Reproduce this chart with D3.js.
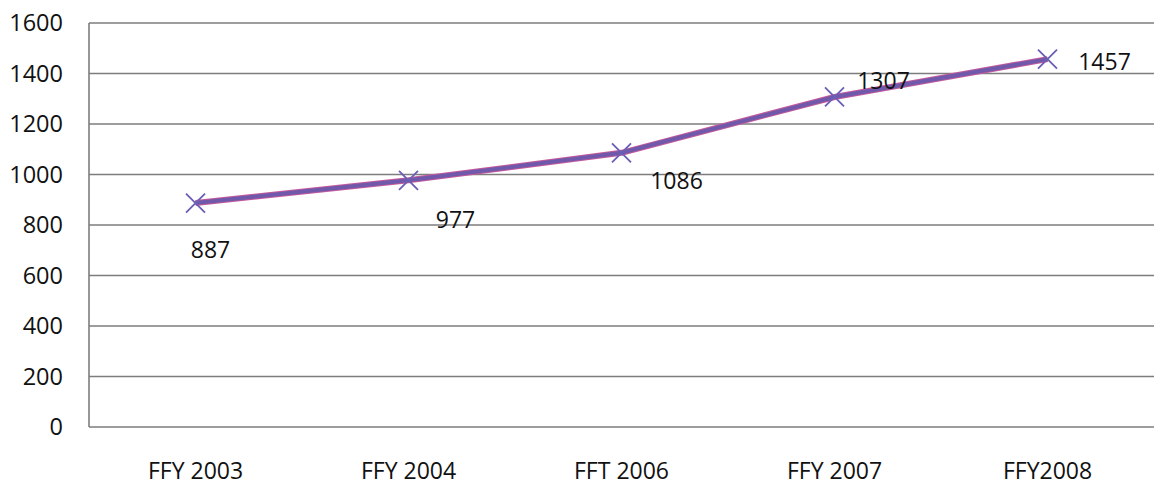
<!DOCTYPE html>
<html>
<head>
<meta charset="utf-8">
<script src="https://cdn.jsdelivr.net/npm/d3@7"></script>
<style>
  html, body { margin: 0; padding: 0; background: #fff; }
  svg text { font-family: "Open Sans", "Liberation Sans", sans-serif; fill: #111; }
</style>
</head>
<body>
<svg id="chart" width="1156" height="485"></svg>
<script>
// Yearly totals
const categories = ["FFY 2003", "FFY 2004", "FFT 2006", "FFY 2007", "FFY2008"];
const values = [887, 977, 1086, 1307, 1457];
const yTicks = [0, 200, 400, 600, 800, 1000, 1200, 1400, 1600];

// Where each value label sits relative to its point
const labelOffsets = [[15, 55], [47, 48], [55, 36], [49, -8], [57, 11]];

const svg = d3.select("#chart");
const margin = { left: 89, right: 2, top: 23, bottom: 58 };
const W = 1156, H = 485;

const x = d3.scaleBand().domain(categories).range([margin.left, W - margin.right]);
const y = d3.scaleLinear().domain([0, 1600]).range([H - margin.bottom, margin.top]);

// Horizontal gridlines
svg.append("g").selectAll("line").data(yTicks).join("line")
  .attr("x1", margin.left).attr("x2", W - margin.right)
  .attr("y1", d => y(d)).attr("y2", d => y(d))
  .attr("stroke", "#7d7d7d").attr("stroke-width", 1.6);

// Left axis line
svg.append("line")
  .attr("x1", margin.left).attr("x2", margin.left)
  .attr("y1", y(1600)).attr("y2", y(0))
  .attr("stroke", "#7d7d7d").attr("stroke-width", 1.6);

// Y tick labels
svg.append("g").selectAll("text").data(yTicks).join("text")
  .attr("x", 63).attr("y", d => y(d))
  .attr("dy", "0.36em")
  .attr("text-anchor", "end")
  .attr("font-size", 23.5)
  .text(d => d);

// X category labels
svg.append("g").selectAll("text").data(categories).join("text")
  .attr("x", d => x(d) + x.bandwidth() / 2)
  .attr("y", 479)
  .attr("text-anchor", "middle")
  .attr("font-size", 23)
  .text(d => d);

const pts = categories.map((c, i) => [x(c) + x.bandwidth() / 2, y(values[i])]);
const line = d3.line();

// Series line: pinkish fringe under a purple core
svg.append("path").attr("d", line(pts))
  .attr("fill", "none").attr("stroke", "#c45a9c").attr("stroke-width", 6)
  .attr("stroke-linejoin", "round");
svg.append("path").attr("d", line(pts))
  .attr("fill", "none").attr("stroke", "#7059ab").attr("stroke-width", 4)
  .attr("stroke-linejoin", "round");

// X markers
const m = 9.5;
svg.append("g").selectAll("path").data(pts).join("path")
  .attr("d", p => `M${p[0] - m},${p[1] - m}L${p[0] + m},${p[1] + m}M${p[0] - m},${p[1] + m}L${p[0] + m},${p[1] - m}`)
  .attr("stroke", "#6a5fb5").attr("stroke-width", 1.8).attr("fill", "none");

// Value labels
svg.append("g").selectAll("text").data(values).join("text")
  .attr("x", (d, i) => pts[i][0] + labelOffsets[i][0])
  .attr("y", (d, i) => pts[i][1] + labelOffsets[i][1])
  .attr("text-anchor", "middle")
  .attr("font-size", 23)
  .text(d => d);
</script>
</body>
</html>
